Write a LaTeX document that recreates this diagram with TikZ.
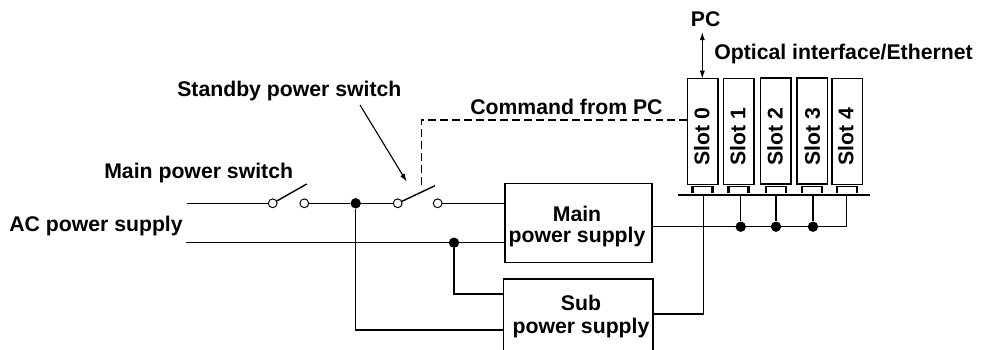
\documentclass[tikz,border=0pt]{standalone}
\usepackage{fontspec}
\setmainfont{Liberation Sans}
\usepackage{xcolor}
\usepackage{tikz}
\usetikzlibrary{positioning,arrows.meta}

\begin{document}
\begin{tikzpicture}[x=0.025cm,y=-0.025cm,
 wire/.style={line width=1pt},
 lbl/.style={inner sep=0pt,font=\bfseries\fontsize{15.1}{15}\selectfont},
 slotbox/.style={draw,line width=1pt,minimum width=0.765cm,minimum height=2.64cm,inner sep=0pt,outer sep=0pt},
 supply/.style={draw,line width=1pt,inner sep=0pt,outer sep=0pt},
 dot/.style={circle,fill=black,minimum size=2.6mm,inner sep=0pt},
 term/.style={circle,draw,line width=0.7pt,fill=white,minimum size=2.2mm,inner sep=0pt,outer sep=0pt},
 arr/.style={{Latex[length=2mm,width=1.3mm]}-{Latex[length=2mm,width=1.3mm]},line width=0.8pt},
 font=\small]
\useasboundingbox (0,0) rectangle (984,349);
\clip (0,0) rectangle (984,349);
% boxes
\node[supply,minimum width=3.675cm,minimum height=1.975cm] (mainbox) at (578.5,222.8) {};
\node[supply,minimum width=3.73cm,minimum height=1.9cm] (subbox) at (578.3,317) {};
\node[lbl,align=center] (mainlabel) at (577,226.5) {Main\\power supply};
\node[lbl,align=center] (sublabel) at (581,316.5) {Sub\\[1.4pt]power supply};
% slots
\foreach \n/\x/\y/\t in {0/702.5/131.5/701.7,1/738.6/131.5/737.7,2/775.8/131/775,3/812.3/131/812.3,4/847.3/131.5/845.7} {
 \node[slotbox] (slot\n) at (\x,\y) {};
 \node[lbl,rotate=90] (slotlabel\n) at (\t,136.7) {Slot \n};
 \draw[line width=0.8pt] ({\x-10},186.5) -- ({\x+10},186.5);
 \draw[line width=1.6pt] ({\x-10},186) -- ({\x-10},193) ({\x+10},186) -- ({\x+10},193);
}
\node[fill=black,minimum width=4.79cm,minimum height=0.7mm,inner sep=0pt,outer sep=0pt] (bus) at (774.2,195) {};
% junctions
\node[dot] (dot1) at (740.7,226.7) {};
\node[dot] (dot2) at (776,226.7) {};
\node[dot] (dot3) at (813,226.7) {};
\coordinate (tie4) at (846.7,226.7);
\foreach \n in {dot1,dot2,dot3,tie4}
 \draw[wire] (\n) -- (\n |- bus.south);
\draw[wire] (mainbox.east |- tie4) -- (tie4);
\coordinate (subout) at (703.3,314);
\draw[wire] (bus.south -| subout) -- (subout) -- (subout -| subbox.east);
% switches
\coordinate (acin) at (186.5,203.3);
\coordinate (acret) at (186,242.7);
\node[dot] (joina) at (355.7,203.3) {};
\node[dot] (joinb) at (454,242.7) {};
\node[term] (mainsw1) at (272.7,203.3) {};
\node[term] (mainsw2) at (304.3,203.3) {};
\node[term] (stbysw1) at (397.7,203.3) {};
\node[term] (stbysw2) at (437.7,203.3) {};
\coordinate (mainarm) at (306.7,184);
\coordinate (stbyarm) at (435,185.7);
\draw[wire] (acin) -- (mainsw1);
\draw[wire] (mainsw1) -- (mainarm);
\draw[wire] (mainsw2) -- (joina) -- (stbysw1);
\draw[wire] (stbysw1) -- (stbyarm);
\draw[wire] (stbysw2) -- (stbysw2 -| mainbox.west);
\draw[wire] (acret) -- (acret -| mainbox.west);
\draw[wire] (joina) |- (503.7,330);
\draw[wire] (joinb) |- (503.7,294);
% command line
\coordinate (cmdend) at (421.7,185);
\draw[wire,dash pattern=on 5.5pt off 3pt] (cmdend) |- (slot0.west |- 0,120);
% labels
\node[lbl] (pclabel) at (705.7,19) {PC};
\node[lbl,anchor=west] (optlabel) at (714,54) {Optical interface/Ethernet};
\node[lbl,anchor=west] (cmdlabel) at (470,107) {Command from PC};
\node[lbl,anchor=west] (stbylabel) at (177,91) {Standby power switch};
\node[lbl,anchor=west] (mainswlabel) at (104,173) {Main power switch};
\node[lbl,anchor=west] (aclabel) at (9,226) {AC power supply};
% arrows
\coordinate (pcend) at (702.3,32);
\draw[arr] (pcend) -- (pcend |- slot0.north);
\coordinate (stbyfrom) at (360,105);
\coordinate (stbyto) at (406.7,181.7);
\draw[-{Latex[length=2mm,width=1.3mm]},line width=0.8pt] (stbyfrom) -- (stbyto);
\end{tikzpicture}
\end{document}
